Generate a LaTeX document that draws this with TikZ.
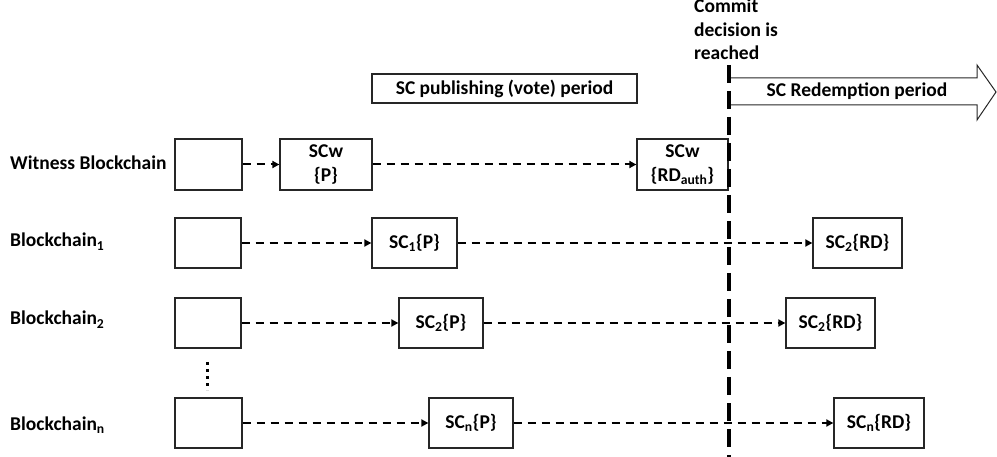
\documentclass[tikz,border=0pt]{standalone}
\usepackage{fontspec}
\setmainfont{Carlito}
\usetikzlibrary{arrows.meta}
\begin{document}
\begin{tikzpicture}[x=1pt,y=-1pt,
  every node/.style={font=\fontsize{19.5}{23.5}\selectfont\bfseries},
  blk/.style={draw=black!85, line width=1.3pt, rectangle, inner sep=0pt, align=center, minimum height=50pt},
  conn/.style={dash pattern=on 8pt off 6pt, line width=2pt, -{Triangle[length=7pt,width=7pt]}},
  commit/.style={line width=4pt, dash pattern=on 18pt off 8pt},
  lbl/.style={anchor=base west, inner sep=0pt}]
\useasboundingbox (0,0) rectangle (997,457);

% labels
\node[lbl] (lw) at (10,170) {Witness Blockchain};
\node[lbl] (l1) at (10,247) {Blockchain\textsubscript{1}};
\node[lbl] (l2) at (10,325) {Blockchain\textsubscript{2}};
\node[lbl] (ln) at (10,430) {Blockchain\textsubscript{n}};

% witness row
\node[blk, minimum width=67pt, minimum height=51pt] (w0) at (208.5,164.5) {};
\node[blk, minimum width=92pt, minimum height=51pt] (w1) at (326,164.5) {SCw\\\{P\}};
\node[blk, minimum width=91pt, minimum height=51pt] (w2) at (682.5,164.5) {SCw\\\{RD\textsubscript{auth}\}};

% row 1
\node[blk, minimum width=66pt] (a0) at (208,243) {};
\node[blk, minimum width=85pt] (a1) at (414.5,243) {SC\textsubscript{1}\{P\}};
\node[blk, minimum width=89pt] (a2) at (857.5,243) {SC\textsubscript{2}\{RD\}};

% row 2
\node[blk, minimum width=66pt] (b0) at (208,323) {};
\node[blk, minimum width=84pt] (b1) at (441,323) {SC\textsubscript{2}\{P\}};
\node[blk, minimum width=89pt] (b2) at (830.5,323) {SC\textsubscript{2}\{RD\}};

% row n
\node[blk, minimum width=67pt] (c0) at (208.5,423) {};
\node[blk, minimum width=84pt] (c1) at (471,423) {SC\textsubscript{n}\{P\}};
\node[blk, minimum width=90pt] (c2) at (879,423) {SC\textsubscript{n}\{RD\}};

% connectors
\draw[conn] (w0) -- (w1);
\draw[conn] (w1) -- (w2);
\draw[conn] (a0) -- (a1);
\draw[conn] (a1) -- (a2);
\draw[conn] (b0) -- (b1);
\draw[conn] (b1) -- (b2);
\draw[conn] (c0) -- (c1);
\draw[conn] (c1) -- (c2);

% vertical dots
\coordinate (d1) at (207,362);
\coordinate (d2) at (207,390);
\draw[line width=3pt, dash pattern=on 3pt off 4pt] (d1) -- (d2);

% publishing period box
\node[blk, minimum width=265pt, minimum height=29pt] (pub) at (504.5,88.5) {SC publishing (vote) period};

% redemption arrow
\draw[line width=1pt, black!85] (728,78) -- (977,78) -- (977,65) -- (996,92) -- (977,120) -- (977,105) -- (728,105);
\node (red) at (857,91.5) {SC Redemption period};

% commit line
\coordinate (ct) at (728.5,65);
\coordinate (cb) at (728.5,457);
\draw[commit] (ct) -- (cb);
\node[anchor=north west, inner sep=0pt, align=left] (commit) at (694,-1) {Commit\\decision is\\reached};
\end{tikzpicture}
\end{document}
